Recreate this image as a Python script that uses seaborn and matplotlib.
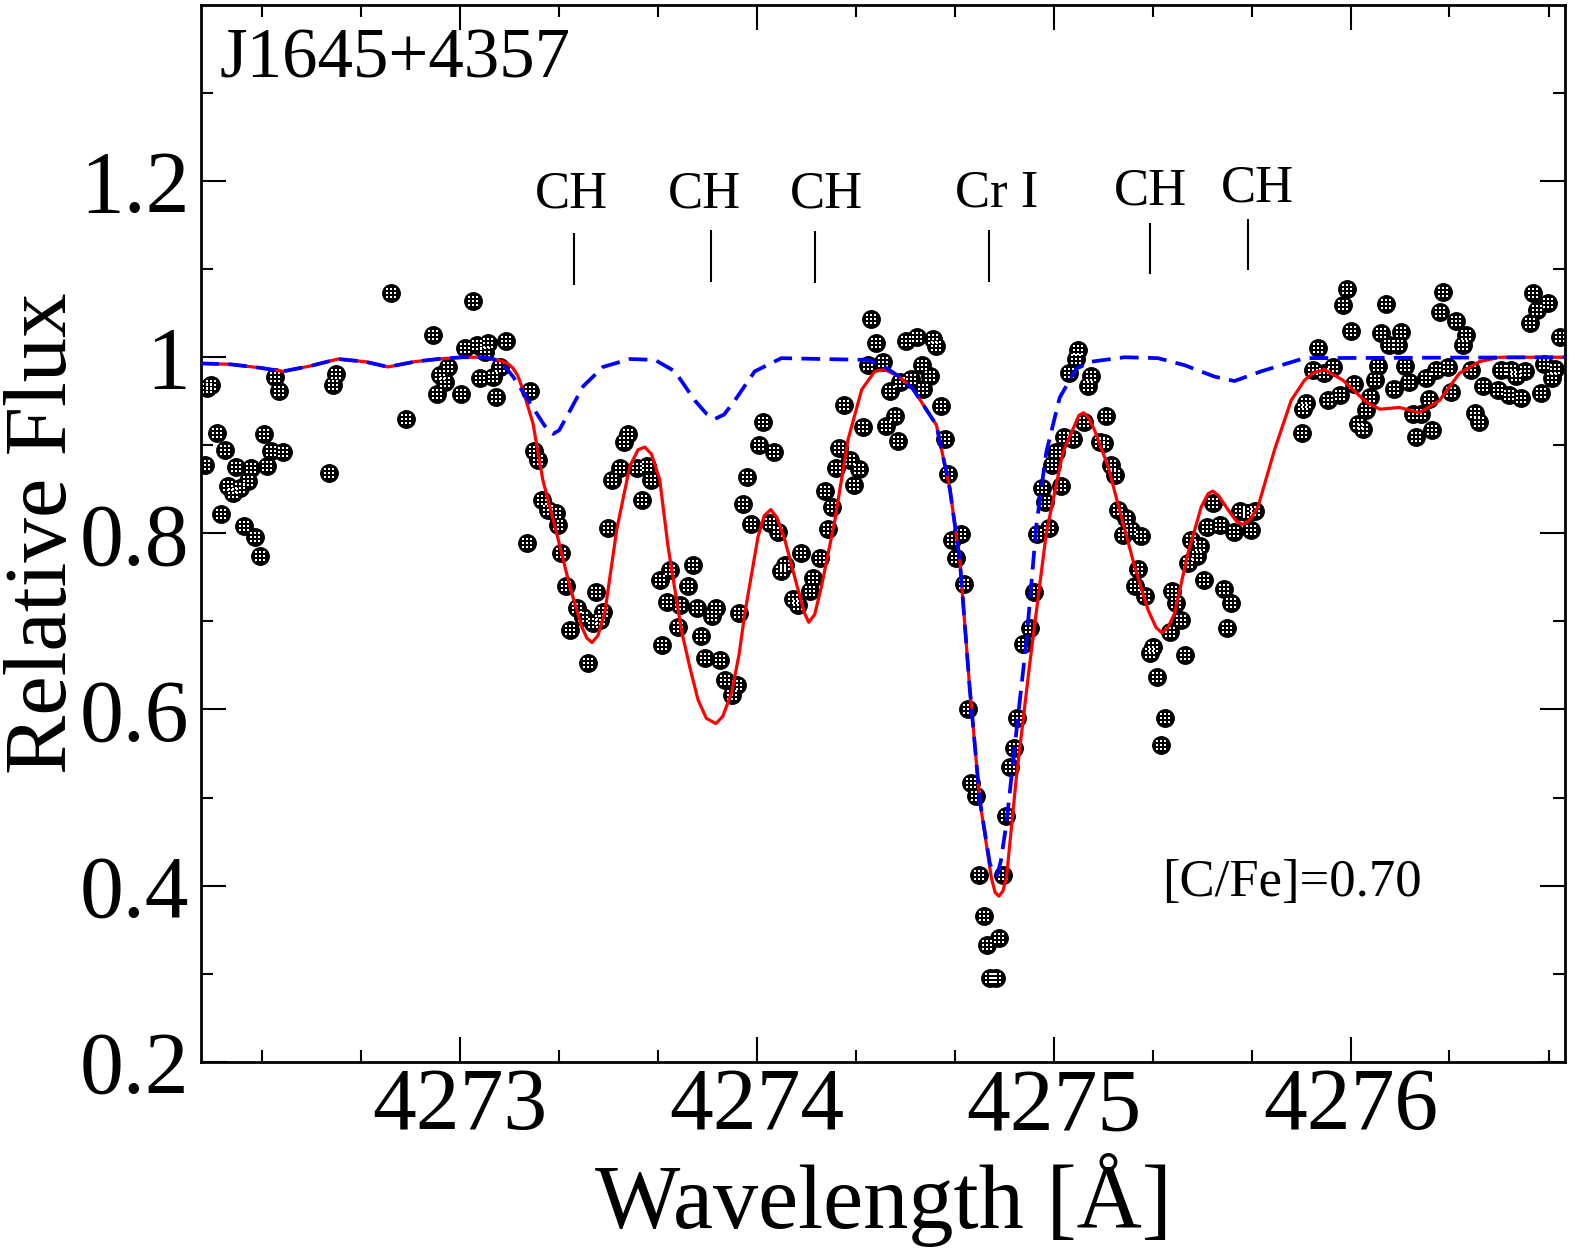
import numpy as np
import matplotlib
matplotlib.use("Agg")
import matplotlib.pyplot as plt
from matplotlib.path import Path
import seaborn as sns

# observed spectrum (wavelength in A, relative flux)
obs_wave = [4272.769, 4272.909, 4272.376, 4272.390, 4272.584, 4272.572, 4272.163, 4272.149,
            4272.819, 4272.182, 4272.339, 4272.208, 4272.363, 4272.404, 4272.140, 4272.247,
            4272.297, 4272.351, 4272.559, 4272.286, 4272.219, 4272.236, 4272.258, 4272.194,
            4272.273, 4272.311, 4272.326, 4273.043, 4273.017, 4273.056, 4273.095, 4273.155,
            4273.084, 4272.961, 4272.933, 4272.949, 4273.135, 4273.067, 4273.112, 4272.924,
            4273.002, 4273.120, 4273.236, 4273.249, 4273.264, 4273.567, 4273.552, 4273.539,
            4273.511, 4273.629, 4273.595, 4273.645, 4273.612, 4273.278, 4273.297, 4273.323,
            4273.331, 4273.225, 4273.499, 4273.342, 4273.357, 4273.460, 4273.395, 4273.482,
            4273.370, 4273.415, 4273.449, 4273.471, 4273.433, 4274.386, 4274.400, 4274.373,
            4274.425, 4274.448, 4274.436, 4274.293, 4274.358, 4274.021, 4274.007, 4274.058,
            4273.966, 4274.276, 4274.268, 4274.313, 4274.343, 4274.328, 4274.229, 4274.254,
            4273.955, 4273.982, 4274.044, 4274.070, 4274.240, 4274.150, 4274.212, 4274.094,
            4274.083, 4274.190, 4274.178, 4274.122, 4274.139, 4273.786, 4273.707, 4273.673,
            4273.769, 4273.696, 4273.741, 4273.797, 4273.864, 4273.849, 4273.939, 4273.733,
            4273.679, 4273.811, 4273.825, 4273.875, 4273.892, 4273.932, 4273.915, 4274.504,
            4274.538, 4274.594, 4274.605, 4274.555, 4274.481, 4274.521, 4274.582, 4274.560,
            4274.465, 4274.476, 4274.619, 4274.633, 4274.644, 4274.656, 4274.689, 4274.670,
            4274.697, 4274.711, 4274.723, 4274.737, 4274.748, 4274.829, 4274.838, 4274.764,
            4274.775, 4274.816, 4274.785, 4274.807, 4274.854, 4274.865, 4274.876, 4274.897,
            4274.919, 4274.933, 4274.944, 4274.984, 4274.959, 4274.970, 4275.023, 4274.996,
            4275.009, 4275.034, 4275.065, 4275.052, 4275.076, 4275.081, 4275.127, 4275.116,
            4275.177, 4275.102, 4275.155, 4275.169, 4275.192, 4275.205, 4275.216, 4275.245,
            4275.233, 4275.262, 4275.295, 4275.284, 4275.273, 4275.309, 4275.398, 4275.413,
            4275.428, 4275.391, 4275.334, 4275.323, 4275.441, 4275.348, 4275.376, 4275.362,
            4275.464, 4275.492, 4275.484, 4275.452, 4275.506, 4275.536, 4275.517, 4275.559,
            4275.573, 4275.596, 4275.585, 4275.626, 4275.677, 4275.609, 4275.663, 4275.654,
            4275.989, 4275.976, 4276.120, 4276.313, 4276.300, 4276.356, 4276.390, 4276.380,
            4276.614, 4276.664, 4276.627, 4276.603, 4276.704, 4276.002, 4276.103, 4276.171,
            4276.131, 4276.159, 4275.890, 4275.873, 4275.940, 4275.912, 4276.092, 4276.185,
            4276.081, 4276.013, 4276.196, 4276.253, 4276.289, 4276.328, 4276.407, 4276.145,
            4276.066, 4276.053, 4275.963, 4275.924, 4275.851, 4275.839, 4276.263, 4276.339,
            4276.445, 4276.507, 4276.541, 4276.557, 4276.586, 4276.496, 4276.533, 4276.575,
            4276.642, 4276.653, 4276.687, 4276.679, 4276.209, 4276.237, 4276.024, 4276.041,
            4276.221, 4276.275, 4276.418, 4276.434, 4275.837]
obs_flux = [1.073, 1.025, 0.978, 0.962, 0.981, 0.968, 0.968, 0.965,
            0.930, 0.914, 0.913, 0.895, 0.894, 0.892, 0.878, 0.875,
            0.874, 0.877, 0.869, 0.859, 0.854, 0.846, 0.851, 0.822,
            0.808, 0.796, 0.774, 1.064, 1.010, 1.014, 1.016, 1.018,
            1.006, 0.989, 0.980, 0.972, 0.989, 0.977, 0.978, 0.958,
            0.958, 0.955, 0.962, 0.893, 0.883, 0.913, 0.904, 0.874,
            0.861, 0.876, 0.874, 0.861, 0.838, 0.838, 0.827, 0.823,
            0.810, 0.789, 0.806, 0.778, 0.740, 0.733, 0.715, 0.711,
            0.690, 0.705, 0.698, 0.702, 0.653, 1.044, 1.016, 0.991,
            0.995, 0.962, 0.922, 0.946, 0.921, 0.927, 0.900, 0.892,
            0.864, 0.897, 0.874, 0.883, 0.873, 0.855, 0.848, 0.830,
            0.833, 0.811, 0.812, 0.802, 0.805, 0.778, 0.772, 0.764,
            0.757, 0.749, 0.734, 0.726, 0.719, 0.764, 0.758, 0.747,
            0.740, 0.722, 0.719, 0.715, 0.715, 0.706, 0.710, 0.694,
            0.673, 0.683, 0.658, 0.656, 0.634, 0.628, 0.617, 1.018,
            1.023, 1.021, 1.013, 0.991, 0.972, 0.975, 0.979, 0.964,
            0.933, 0.905, 0.945, 0.907, 0.867, 0.792, 0.799, 0.772,
            0.743, 0.600, 0.517, 0.502, 0.412, 0.412, 0.479, 0.366,
            0.332, 0.340, 0.295, 0.295, 0.535, 0.556, 0.590, 0.674,
            0.692, 0.733, 0.799, 0.806, 0.852, 0.836, 0.854, 0.878,
            0.892, 0.910, 0.907, 0.982, 0.998, 1.008, 0.979, 0.967,
            0.933, 0.926, 0.904, 0.903, 0.878, 0.866, 0.827, 0.817,
            0.798, 0.804, 0.797, 0.759, 0.740, 0.729, 0.734, 0.721,
            0.702, 0.688, 0.671, 0.664, 0.662, 0.637, 0.590, 0.560,
            0.793, 0.786, 0.774, 0.766, 0.747, 0.834, 0.807, 0.810,
            0.737, 0.721, 0.692, 0.825, 0.825, 0.801, 0.804, 0.823,
            1.077, 1.059, 1.061, 1.074, 1.051, 1.041, 1.025, 1.014,
            1.073, 1.062, 1.054, 1.039, 1.023, 1.030, 1.028, 1.029,
            1.014, 1.014, 1.011, 0.985, 0.989, 0.982, 0.990, 0.990,
            0.974, 0.970, 0.972, 0.977, 0.985, 0.989, 0.985, 0.964,
            0.955, 0.940, 0.957, 0.951, 0.948, 0.941, 0.953, 0.960,
            0.967, 0.985, 0.985, 0.979, 0.984, 0.963, 0.957, 0.954,
            0.959, 0.992, 0.987, 0.977, 0.936, 0.936, 0.924, 0.918,
            0.910, 0.917, 0.937, 0.927, 0.914]

# synthetic spectrum with [C/Fe]=0.70 (red)
syn_wave = [4272.125, 4272.226, 4272.327, 4272.404, 4272.495, 4272.589, 4272.680, 4272.758,
            4272.848, 4272.926, 4273.010, 4273.084, 4273.135, 4273.160, 4273.178, 4273.195,
            4273.212, 4273.246, 4273.279, 4273.326, 4273.370, 4273.410, 4273.428, 4273.445,
            4273.465, 4273.488, 4273.528, 4273.572, 4273.600, 4273.623, 4273.645, 4273.673,
            4273.701, 4273.746, 4273.775, 4273.802, 4273.830, 4273.862, 4273.885, 4273.915,
            4273.940, 4273.960, 4274.004, 4274.025, 4274.047, 4274.068, 4274.094, 4274.139,
            4274.160, 4274.175, 4274.195, 4274.218, 4274.263, 4274.307, 4274.353, 4274.397,
            4274.431, 4274.480, 4274.526, 4274.605, 4274.650, 4274.684, 4274.717, 4274.751,
            4274.790, 4274.803, 4274.816, 4274.829, 4274.841, 4274.874, 4274.919, 4274.975,
            4275.031, 4275.085, 4275.101, 4275.118, 4275.138, 4275.183, 4275.228, 4275.273,
            4275.318, 4275.345, 4275.365, 4275.385, 4275.407, 4275.452, 4275.497, 4275.520,
            4275.536, 4275.555, 4275.587, 4275.615, 4275.637, 4275.660, 4275.688, 4275.744,
            4275.800, 4275.845, 4275.873, 4275.912, 4275.974, 4276.053, 4276.098, 4276.165,
            4276.232, 4276.300, 4276.367, 4276.434, 4276.502, 4276.722]
syn_flux = [0.993, 0.992, 0.988, 0.984, 0.990, 0.998, 0.995, 0.989,
            0.995, 0.998, 1.000, 1.000, 0.996, 0.993, 0.988, 0.979,
            0.963, 0.925, 0.861, 0.800, 0.740, 0.694, 0.681, 0.676,
            0.684, 0.710, 0.804, 0.876, 0.895, 0.898, 0.890, 0.861,
            0.785, 0.690, 0.647, 0.611, 0.590, 0.584, 0.592, 0.619,
            0.662, 0.710, 0.796, 0.820, 0.827, 0.818, 0.793, 0.736,
            0.710, 0.699, 0.708, 0.740, 0.815, 0.906, 0.963, 0.984,
            0.986, 0.978, 0.964, 0.923, 0.851, 0.769, 0.625, 0.497,
            0.409, 0.392, 0.388, 0.394, 0.409, 0.522, 0.651, 0.800,
            0.892, 0.934, 0.937, 0.931, 0.917, 0.876, 0.819, 0.762,
            0.713, 0.693, 0.687, 0.693, 0.709, 0.777, 0.830, 0.845,
            0.848, 0.843, 0.827, 0.814, 0.810, 0.815, 0.830, 0.895,
            0.951, 0.974, 0.982, 0.986, 0.974, 0.949, 0.941, 0.943,
            0.937, 0.951, 0.982, 0.995, 1.000, 1.000]

# synthetic spectrum without carbon (blue dashed)
noc_wave = [4272.125, 4272.226, 4272.327, 4272.404, 4272.495, 4272.589, 4272.680, 4272.758,
            4272.848, 4272.926, 4273.010, 4273.084, 4273.135, 4273.179, 4273.236, 4273.280,
            4273.298, 4273.314, 4273.334, 4273.359, 4273.415, 4273.482, 4273.572, 4273.657,
            4273.724, 4273.791, 4273.830, 4273.859, 4273.890, 4273.926, 4273.993, 4274.083,
            4274.218, 4274.375, 4274.431, 4274.480, 4274.526, 4274.605, 4274.650, 4274.684,
            4274.717, 4274.751, 4274.785, 4274.798, 4274.810, 4274.822, 4274.841, 4274.874,
            4274.908, 4274.942, 4274.975, 4275.020, 4275.076, 4275.127, 4275.239, 4275.351,
            4275.441, 4275.542, 4275.609, 4275.699, 4275.845, 4276.722]
noc_flux = [0.993, 0.992, 0.988, 0.984, 0.990, 0.998, 0.995, 0.989,
            0.995, 0.998, 1.000, 1.000, 0.996, 0.978, 0.948, 0.925,
            0.916, 0.913, 0.917, 0.932, 0.967, 0.989, 0.998, 0.997,
            0.984, 0.951, 0.936, 0.930, 0.935, 0.951, 0.984, 0.999,
            0.998, 0.997, 0.989, 0.978, 0.964, 0.923, 0.851, 0.769,
            0.625, 0.497, 0.425, 0.414, 0.412, 0.428, 0.471, 0.574,
            0.677, 0.810, 0.892, 0.954, 0.987, 0.995, 1.000, 0.999,
            0.991, 0.978, 0.973, 0.984, 0.999, 1.000]

# line identifications
line_names = ["CH", "CH", "CH", "Cr I", "CH", "CH"]
line_wave = [4273.383, 4273.847, 4274.197, 4274.783, 4275.325, 4275.654]
line_text_x = [4273.376, 4273.824, 4274.234, 4274.807, 4275.325, 4275.688]
line_text_y = [1.170, 1.170, 1.170, 1.171, 1.174, 1.177]
line_bot = [1.082, 1.086, 1.084, 1.086, 1.094, 1.099]
line_top = [1.141, 1.145, 1.143, 1.145, 1.152, 1.157]

x_ticks = [4273, 4274, 4275, 4276]
x_minor = [4272.333, 4272.667, 4273.333, 4273.667, 4274.333, 4274.667,
           4275.333, 4275.667, 4276.333, 4276.667]
y_ticks = [0.2, 0.4, 0.6, 0.8, 1.0, 1.2]
y_tick_labels = ["0.2", "0.4", "0.6", "0.8", "1", "1.2"]
y_minor = [0.3, 0.5, 0.7, 0.9, 1.1, 1.3]

star_name = "J1645+4357"
abund_label = "[C/Fe]=0.70"

sns.set_style("ticks")
plt.rcParams['font.family'] = ['Liberation Serif', 'DejaVu Serif']
plt.rcParams['text.color'] = 'black'
plt.rcParams['axes.labelcolor'] = 'black'
plt.rcParams['axes.edgecolor'] = 'black'
plt.rcParams['xtick.color'] = 'black'
plt.rcParams['ytick.color'] = 'black'


def grid_marker(n=3, frac=0.45):
    # small white squares, drawn on top of the black dots
    verts, codes = [], []
    step = 2.0 / n
    half = step * frac / 2
    for i in range(n):
        for j in range(n):
            cx = -1 + step * (i + 0.5)
            cy = -1 + step * (j + 0.5)
            verts += [(cx - half, cy - half), (cx + half, cy - half),
                      (cx + half, cy + half), (cx - half, cy + half), (cx - half, cy - half)]
            codes += [Path.MOVETO, Path.LINETO, Path.LINETO, Path.LINETO, Path.CLOSEPOLY]
    return Path(verts, codes)


fig = plt.figure(figsize=(15.78, 12.55), dpi=100)
ax = fig.add_axes([0.1276, 0.154, 0.8641, 0.842])

sns.scatterplot(x=obs_wave, y=obs_flux, color="black", edgecolor="black",
                linewidth=0, s=185, ax=ax, zorder=2)
sns.scatterplot(x=obs_wave, y=obs_flux, color="white", marker=grid_marker(),
                linewidth=0, s=52, ax=ax, zorder=2.1)

sns.lineplot(x=syn_wave, y=syn_flux, color="red", linewidth=2.3,
             estimator=None, sort=False, ax=ax, zorder=3)
sns.lineplot(x=noc_wave, y=noc_flux, color="blue", linewidth=2.7,
             linestyle=(0, (5.0, 2.5)), estimator=None, sort=False, ax=ax, zorder=4)

ax.vlines(line_wave, line_bot, line_top, color="black", linewidth=1.5)
for name, xt, yt in zip(line_names, line_text_x, line_text_y):
    ax.text(xt, yt, name, ha="center", va="baseline", fontsize=38)

ax.text(0.0133, 0.931, star_name, transform=ax.transAxes, ha="left",
        va="baseline", fontsize=51)
ax.text(4275.366, 0.388, abund_label, ha="left", va="baseline", fontsize=38)

ax.set_xlim(4272.129, 4276.722)
ax.set_ylim(0.2, 1.4)
ax.set_xticks(x_ticks)
ax.set_xticklabels([str(t) for t in x_ticks])
ax.set_xticks(x_minor, minor=True)
ax.set_yticks(y_ticks)
ax.set_yticklabels(y_tick_labels)
ax.set_yticks(y_minor, minor=True)

ax.tick_params(which="both", direction="in", top=True, right=True, width=1.5)
ax.tick_params(which="major", length=18, labelsize=63)
ax.tick_params(axis="x", which="major", pad=4)
ax.tick_params(axis="y", which="major", pad=8.5)
ax.tick_params(which="minor", length=8.6)
for sp in ax.spines.values():
    sp.set_linewidth(2)
    sp.set_visible(True)

ax.set_xlabel("Wavelength [Å]", fontsize=65)
ax.set_ylabel("Relative Flux", fontsize=64)
ax.xaxis.set_label_coords(0.5, -0.086)
ax.yaxis.set_label_coords(-0.0856, 0.5)

fig.savefig("out.png", dpi=100)
